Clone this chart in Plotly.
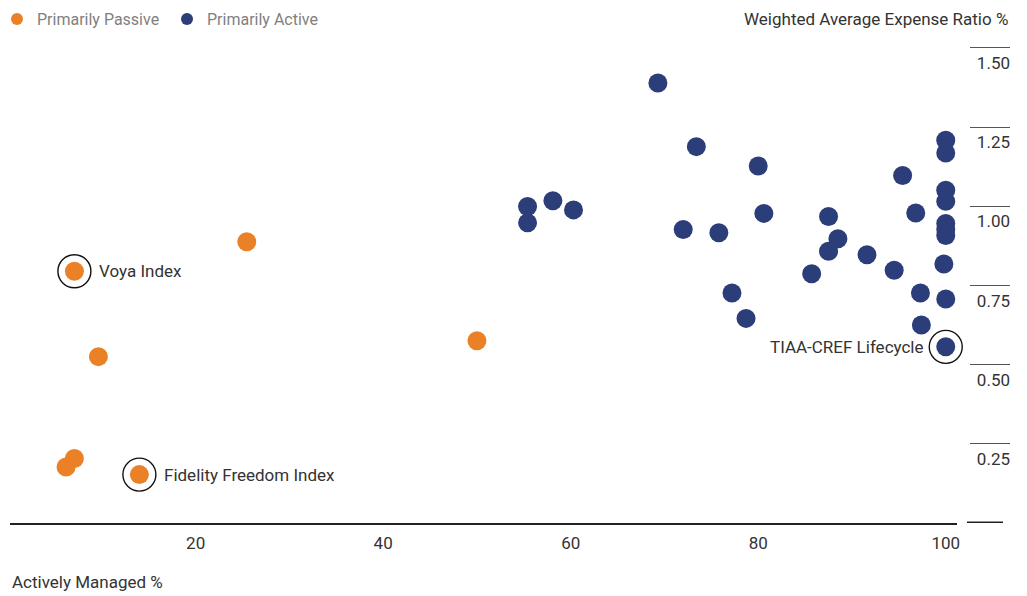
import plotly.graph_objects as go

# ---- data ----
passive_x = [7.07, 25.45, 9.63, 50.0, 7.07, 6.18, 14.0]
passive_y = [0.794, 0.887, 0.524, 0.574, 0.202, 0.175, 0.151]

active_x = [69.3, 73.4, 80.0, 95.4, 100, 100, 100, 100, 55.4, 58.1, 60.3, 55.4,
            72.0, 75.8, 80.6, 87.5, 88.5, 87.5, 91.6, 85.7, 94.5, 96.8, 100, 100,
            100, 77.2, 78.7, 97.3, 100, 99.8, 97.4, 100]
active_y = [1.389, 1.188, 1.127, 1.097, 1.208, 1.168, 1.050, 1.015, 0.999, 1.017,
            0.988, 0.947, 0.926, 0.916, 0.977, 0.967, 0.897, 0.857, 0.846, 0.786,
            0.797, 0.978, 0.945, 0.926, 0.907, 0.725, 0.645, 0.725, 0.706, 0.817,
            0.624, 0.555]

hl_names = ["Voya Index", "Fidelity Freedom Index", "TIAA-CREF Lifecycle"]
hl_x = [7.07, 14.0, 100]
hl_y = [0.794, 0.151, 0.555]
hl_side = ["right", "right", "left"]

y_tickvals = [0.25, 0.5, 0.75, 1.0, 1.25, 1.5]
y_ticktext = ["0.25", "0.50", "0.75", "1.00", "1.25", "1.50"]
x_tickvals = [20, 40, 60, 80, 100]

ORANGE = "#EB8127"
NAVY = "#2C3E7A"
FONT = "Roboto, sans-serif"
DARK = "#333333"

fig = go.Figure()
fig.add_trace(go.Scatter(x=passive_x, y=passive_y, mode="markers", name="Primarily Passive",
                         marker=dict(color=ORANGE, size=19, line=dict(width=0)),
                         cliponaxis=False, hoverinfo="skip"))
fig.add_trace(go.Scatter(x=active_x, y=active_y, mode="markers", name="Primarily Active",
                         marker=dict(color=NAVY, size=19, line=dict(width=0)),
                         cliponaxis=False, hoverinfo="skip"))
fig.add_trace(go.Scatter(x=hl_x, y=hl_y, mode="markers", showlegend=False,
                         marker=dict(symbol="circle-open", size=33, color="#111111",
                                     line=dict(color="#111111", width=1.4)),
                         cliponaxis=False, hoverinfo="skip"))

for n, x, y, s in zip(hl_names, hl_x, hl_y, hl_side):
    fig.add_annotation(x=x, y=y, xref="x", yref="y", text=n, showarrow=False,
                       xanchor="left" if s == "right" else "right",
                       xshift=23 if s == "right" else -20,
                       font=dict(family=FONT, size=17, color=DARK))

fig.add_annotation(xref="paper", yref="paper", x=1.0, y=1.0, yshift=10,
                   text="Weighted Average Expense Ratio %", showarrow=False,
                   xanchor="right", yanchor="middle",
                   font=dict(family=FONT, size=17, color=DARK))
fig.add_annotation(xref="paper", yref="paper", x=0.0, y=0.0, yshift=-59,
                   text="Actively Managed %", showarrow=False,
                   xanchor="left", yanchor="middle",
                   font=dict(family=FONT, size=17, color=DARK))

# baseline segment of the value scale (y = 0)
fig.add_shape(type="line", xref="paper", yref="y", x0=0.957, x1=0.993, y0=0, y1=0,
              line=dict(color="#222222", width=1.5))

# the page body adds an 8px offset, so the figure is 8px smaller and margins shifted
fig.update_layout(
    width=1019, height=588,
    margin=dict(l=2, r=17, t=21, b=73, autoexpand=False),
    paper_bgcolor="white", plot_bgcolor="white",
    font=dict(family=FONT, size=17, color=DARK),
    legend=dict(orientation="h", x=-0.013, y=0.981, yanchor="middle", xanchor="left",
                yref="container", font=dict(family=FONT, size=16, color="#7f7f7f"),
                itemsizing="constant", entrywidth=125),
    xaxis=dict(domain=[0, 0.947], range=[0.2, 101.2], showgrid=False, zeroline=False,
               showline=True, linecolor="#222222", linewidth=1.5,
               tickvals=x_tickvals, ticks="", ticklabelstandoff=4,
               tickfont=dict(size=17, color=DARK)),
    yaxis=dict(range=[-0.002, 1.56], anchor="free", position=1.0, side="right",
               showgrid=False, zeroline=False, showline=False,
               tickvals=y_tickvals, ticktext=y_ticktext,
               ticks="inside", ticklen=40, tickcolor="#555555", tickwidth=1,
               ticklabelposition="inside bottom", ticklabelstandoff=-3,
               ticklabelshift=3,
               tickfont=dict(size=17, color=DARK)),
)

fig.write_html("out.html")
